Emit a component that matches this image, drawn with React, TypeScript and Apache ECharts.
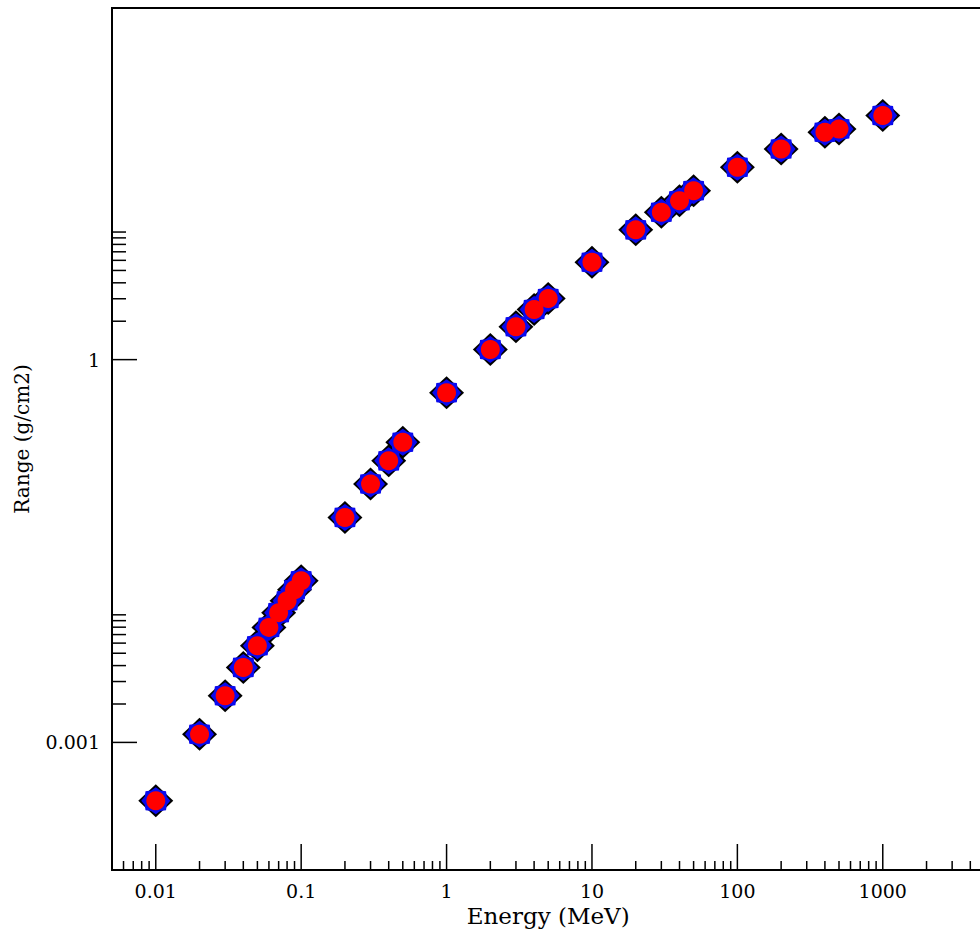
import React, { useEffect, useRef } from 'react';
import * as echarts from 'echarts';

// Energy (MeV) values of the data points
const energy = [0.01, 0.02, 0.03, 0.04, 0.05, 0.06, 0.07, 0.08, 0.09, 0.1, 0.2, 0.3, 0.4, 0.5, 1, 2, 3, 4, 5, 10, 20, 30, 40, 50, 100, 200, 400, 500, 1000];
// Range (g/cm2) for the three overlaid series
const rangeBlack = [3.49e-4, 1.16e-3, 2.32e-3, 3.87e-3, 5.73e-3, 7.97e-3, 0.0104, 0.0129, 0.0157, 0.0185, 0.058, 0.106, 0.161, 0.225, 0.551, 1.2, 1.81, 2.47, 3.01, 5.79, 10.4, 14.3, 17.6, 21.1, 32.2, 44.8, 60.5, 64.3, 81.8];
const rangeBlue = [3.49e-4, 1.16e-3, 2.32e-3, 3.87e-3, 5.73e-3, 7.97e-3, 0.0104, 0.0129, 0.0157, 0.0185, 0.058, 0.106, 0.161, 0.225, 0.551, 1.2, 1.81, 2.47, 3.01, 5.79, 10.4, 14.3, 17.6, 21.1, 32.2, 44.8, 60.5, 64.3, 81.8];
const rangeRed = [3.49e-4, 1.16e-3, 2.32e-3, 3.87e-3, 5.73e-3, 7.97e-3, 0.0104, 0.0129, 0.0157, 0.0185, 0.058, 0.106, 0.161, 0.225, 0.551, 1.2, 1.81, 2.47, 3.01, 5.79, 10.4, 14.3, 17.6, 21.1, 32.2, 44.8, 60.5, 64.3, 81.8];

// Axis extents
const xMin = 0.005;
const xMax = 5000;
const yMin = 1e-4;
const yMax = 570;

// Tick values and labels
const xTickValues = [0.01, 0.1, 1, 10, 100, 1000];
const xTickLabels = ['0.01', '0.1', '1', '10', '100', '1000'];
const yTickValues = [0.001, 1];
const yTickLabels = ['0.001', '1'];
const xMinorTicks = [
  0.006, 0.007, 0.008, 0.009,
  0.02, 0.03, 0.04, 0.05, 0.06, 0.07, 0.08, 0.09,
  0.2, 0.3, 0.4, 0.5, 0.6, 0.7, 0.8, 0.9,
  2, 3, 4, 5, 6, 7, 8, 9,
  20, 30, 40, 50, 60, 70, 80, 90,
  200, 300, 400, 500, 600, 700, 800, 900,
  2000, 3000, 4000,
];
const yMinorTicks = [0.002, 0.003, 0.004, 0.005, 0.006, 0.007, 0.008, 0.009, 0.01, 2, 3, 4, 5, 6, 7, 8, 9, 10];

const STAR = 'path://M200 100L175.76 131.38L170.71 170.71L131.38 175.76L100 200L68.62 175.76L29.29 170.71L24.24 131.38L0 100L24.24 68.62L29.29 29.29L68.62 24.24L100 0L131.38 24.24L170.71 29.29L175.76 68.62Z';
const FONT = 'DejaVu Serif';

function labelFor(v: number, values: number[], labels: string[]) {
  const lv = Math.log10(v);
  for (let i = 0; i < values.length; i++) {
    if (Math.abs(lv - Math.log10(values[i])) < 1e-6) return labels[i];
  }
  return '';
}

export default function App() {
  const ref = useRef<HTMLDivElement>(null);
  useEffect(() => {
    if (!ref.current) return;
    const chart = echarts.init(ref.current, undefined, { renderer: 'svg' });

    const xTickData = [
      ...xTickValues.map((v) => [v, yMin, 26]),
      ...xMinorTicks.map((v) => [v, yMin, 9]),
    ];
    const yTickData = [
      ...yTickValues.map((v) => [xMin, v, 25]),
      ...yMinorTicks.map((v) => [xMin, v, 14]),
    ];

    chart.setOption({
      animation: false,
      backgroundColor: '#fff',
      grid: {
        left: 112,
        top: 8,
        right: 15.6,
        bottom: 67,
        show: true,
        borderColor: '#000',
        borderWidth: 2,
        backgroundColor: 'transparent',
      },
      xAxis: {
        type: 'log',
        logBase: 10,
        min: xMin,
        max: xMax,
        name: 'Energy (MeV)',
        nameLocation: 'middle',
        nameGap: 25,
        nameTextStyle: { fontFamily: FONT, fontSize: 23, color: '#000' },
        axisLine: { show: true, lineStyle: { color: '#000', width: 2 } },
        axisTick: { show: false },
        splitLine: { show: false },
        axisLabel: {
          fontFamily: FONT,
          fontSize: 19,
          color: '#000',
          margin: 11,
          showMinLabel: false,
          showMaxLabel: false,
          formatter: (v: number) => labelFor(v, xTickValues, xTickLabels),
        },
      },
      yAxis: {
        type: 'log',
        logBase: 10,
        min: yMin,
        max: yMax,
        name: 'Range (g/cm2)',
        nameLocation: 'middle',
        nameGap: 80,
        nameTextStyle: { fontFamily: FONT, fontSize: 20, color: '#000' },
        axisLine: { show: true, lineStyle: { color: '#000', width: 2 } },
        axisTick: { show: false },
        splitLine: { show: false },
        axisLabel: {
          fontFamily: FONT,
          fontSize: 19,
          color: '#000',
          margin: 12,
          showMinLabel: false,
          showMaxLabel: false,
          formatter: (v: number) => labelFor(v, yTickValues, yTickLabels),
        },
      },
      series: [
        {
          type: 'custom',
          silent: true,
          clip: false,
          data: xTickData,
          renderItem: (params: any, api: any) => {
            const p = api.coord([api.value(0), api.value(1)]);
            const len = api.value(2);
            return {
              type: 'line',
              shape: { x1: p[0], y1: p[1], x2: p[0], y2: p[1] - len },
              style: { stroke: '#000', lineWidth: 1.5 },
            };
          },
        },
        {
          type: 'custom',
          silent: true,
          clip: false,
          data: yTickData,
          renderItem: (params: any, api: any) => {
            const p = api.coord([api.value(0), api.value(1)]);
            const len = api.value(2);
            return {
              type: 'line',
              shape: { x1: p[0], y1: p[1], x2: p[0] + len, y2: p[1] },
              style: { stroke: '#000', lineWidth: 1.5 },
            };
          },
        },
        {
          type: 'scatter',
          symbol: 'diamond',
          symbolSize: [35, 33],
          itemStyle: { color: '#000', opacity: 1 },
          data: energy.map((e, i) => [e, rangeBlack[i]]),
          z: 2,
        },
        {
          type: 'scatter',
          symbol: STAR,
          symbolSize: [29, 27],
          itemStyle: { color: '#0a0aee', opacity: 1 },
          data: energy.map((e, i) => [e, rangeBlue[i]]),
          z: 3,
        },
        {
          type: 'scatter',
          symbol: 'circle',
          symbolSize: 19,
          itemStyle: { color: '#ff0000', opacity: 1 },
          data: energy.map((e, i) => [e, rangeRed[i]]),
          z: 4,
        },
      ],
    });
    return () => chart.dispose();
  }, []);

  return (
    <div style={{ position: 'absolute', left: 0, top: 0, width: 980, height: 937, overflow: 'hidden', background: '#fff' }}>
      <div ref={ref} style={{ width: 1000, height: 937 }} />
    </div>
  );
}
